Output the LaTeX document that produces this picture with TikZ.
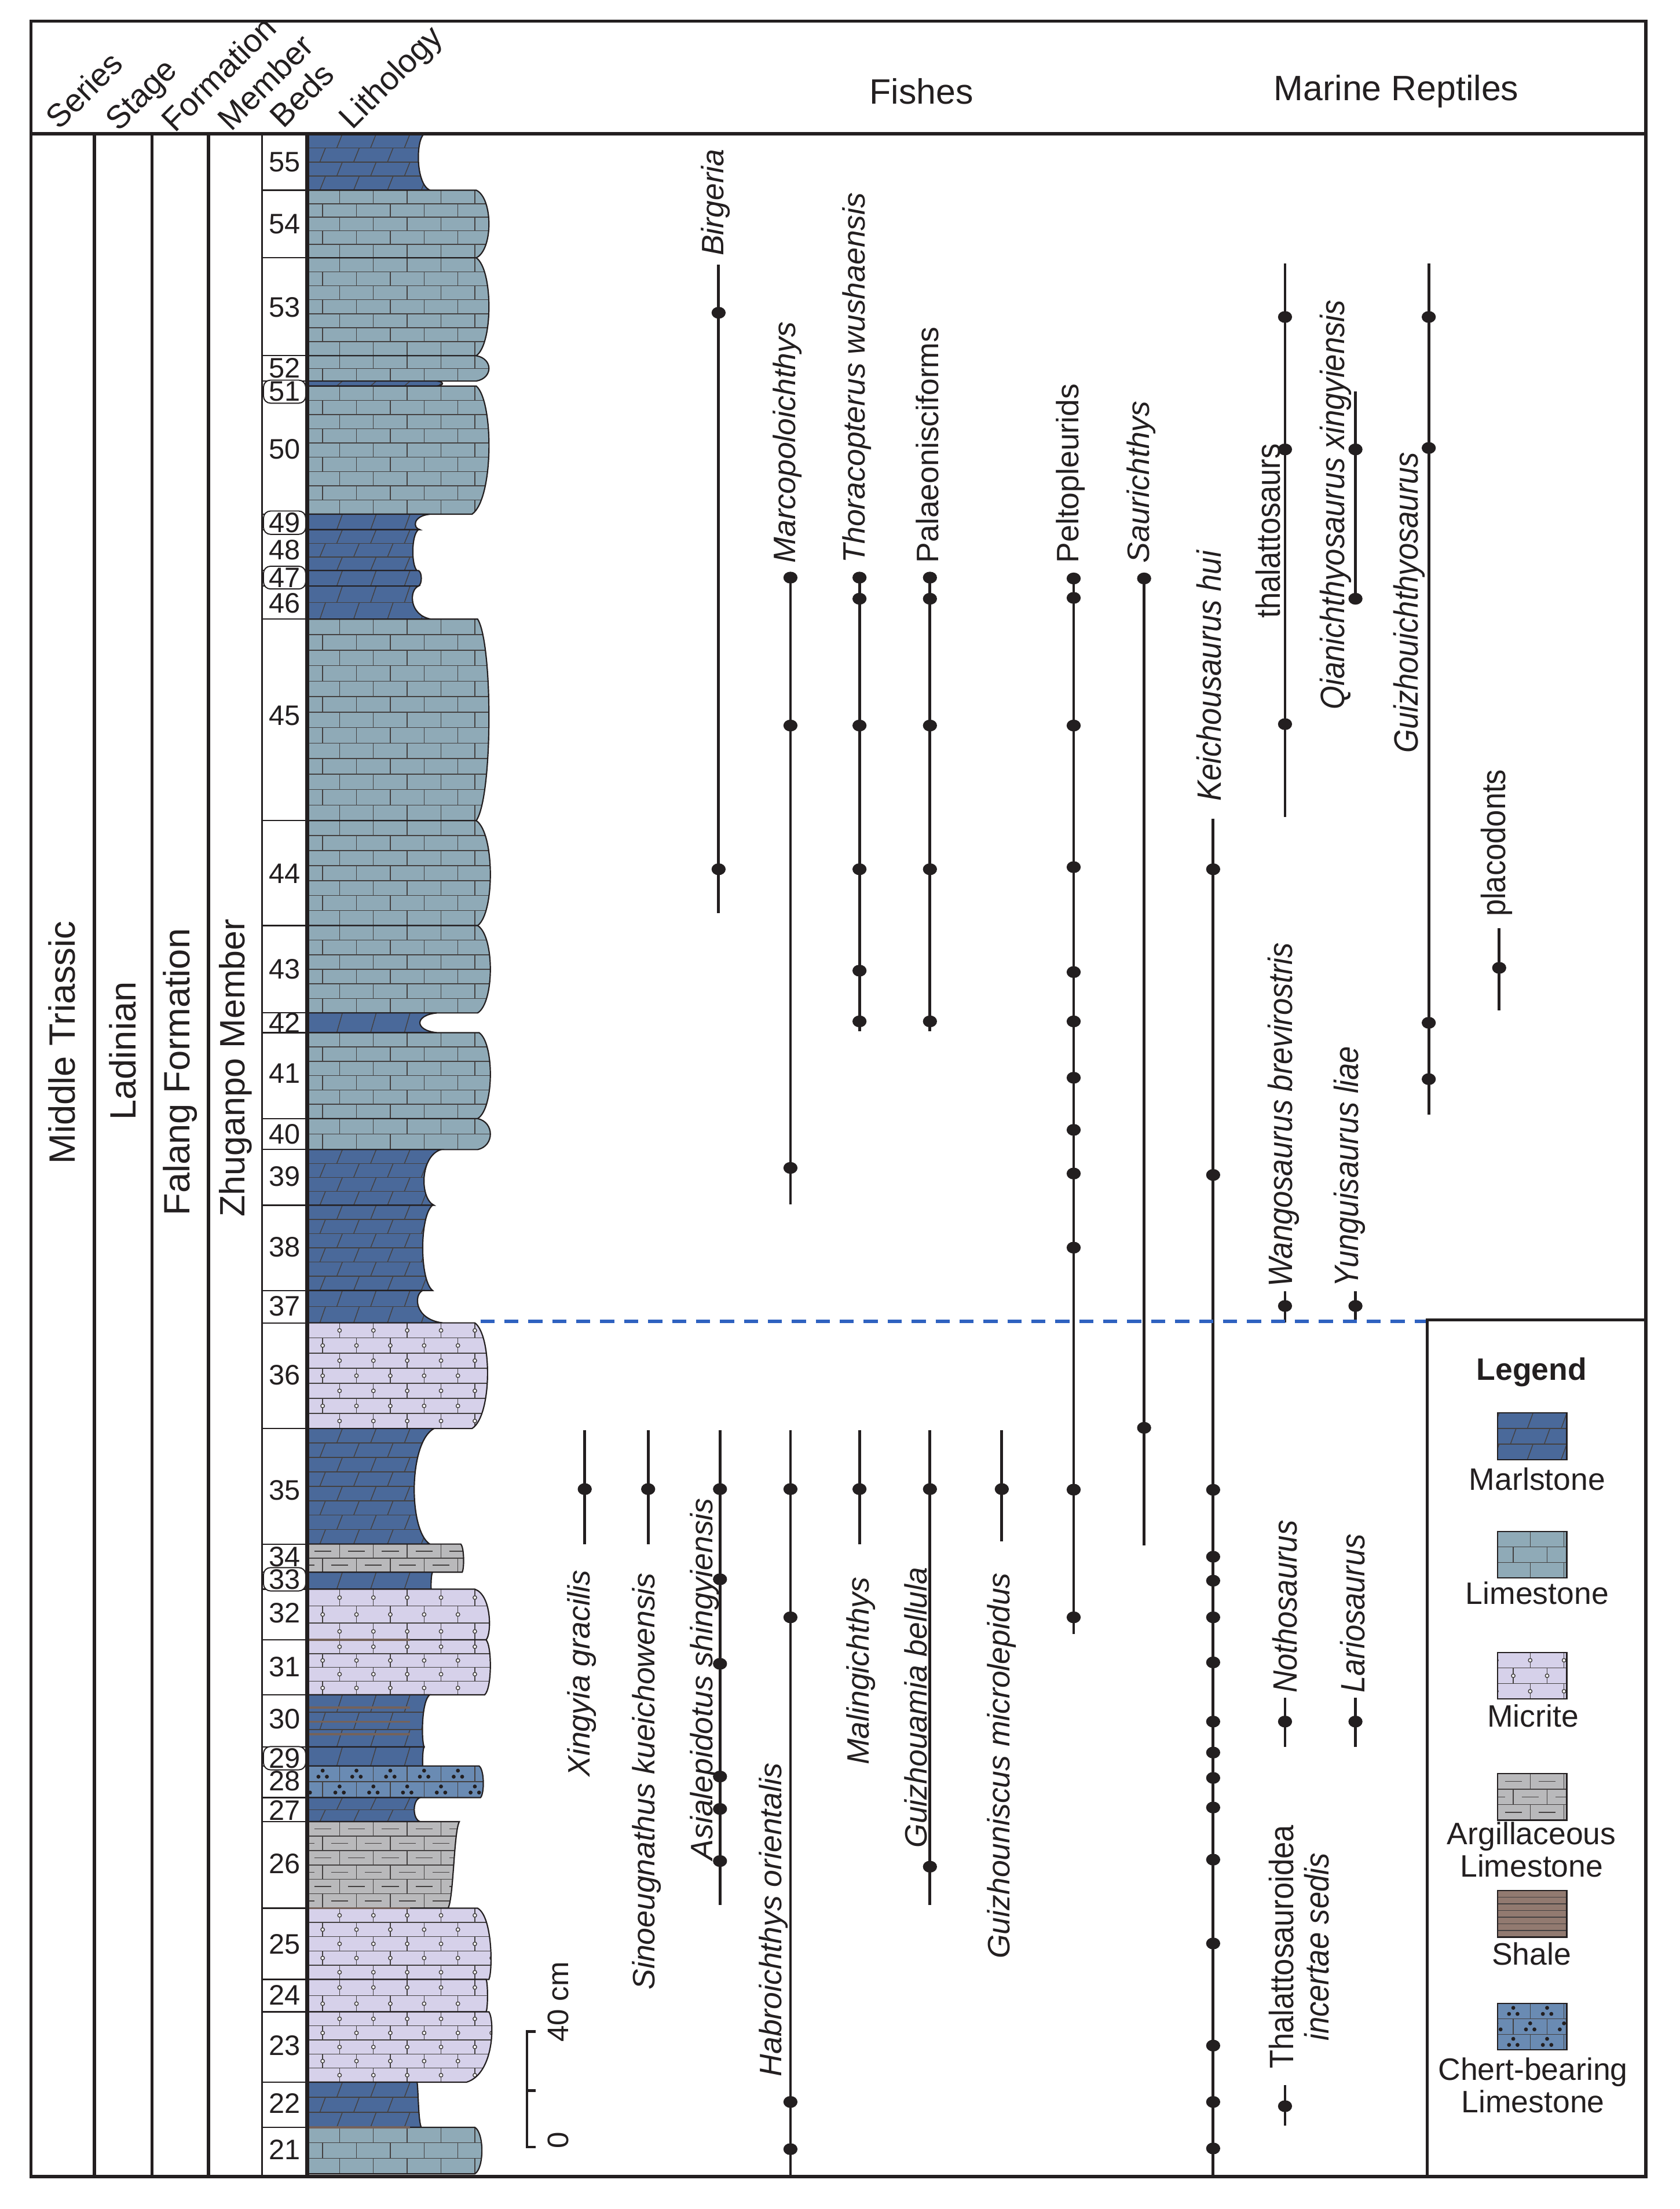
\documentclass[tikz,border=0pt]{standalone}
\usepackage{fontspec}
\setmainfont{Liberation Sans}
\newfontfamily\narrowsf[FakeStretch=0.9]{Liberation Sans}
\usetikzlibrary{calc}

\definecolor{ink}{HTML}{231F20}
\definecolor{marlblue}{HTML}{4A699A}
\definecolor{limeblue}{HTML}{8FAAB7}
\definecolor{micritelilac}{HTML}{D6D1EA}
\definecolor{argilgrey}{HTML}{B9B9BB}
\definecolor{shalebrown}{HTML}{927A70}
\definecolor{chertblue}{HTML}{6A8BB3}
\definecolor{dashblue}{HTML}{2F62C0}

\newcommand{\jlime}{\draw[pat] (\litx,\litya) -- (\litx,\lityb);}
\newcommand{\jmarl}{\draw[pat] (\litx-2,\lityb) -- (\litx+2,\litya);}
\newcommand{\jmicr}{\draw[pat] (\litx,\litya) -- (\litx,\lityb);
  \draw[pat,fill=white] (\litx,\litym) circle (1.3);}
\newcommand{\jargi}{\draw[pat] (\litx,\litya) -- (\litx,\lityb);
  \draw[pat] (\litx+6,\litym) -- (\litx+18,\litym);}
\newcommand{\jchert}{\draw[pat] (\litx,\litya) -- (\litx,\lityb);
  \fill[ink] (\litx+12,\litym-2.3) circle (1.4) (\litx+9,\litym+2) circle (1.4)
    (\litx+15,\litym+2) circle (1.4);}

\newcommand{\litrows}[5]{%
  \pgfmathtruncatemacro{\litn}{max(1,round((#3-(#2))/10.6))}
  \pgfmathsetmacro{\lith}{(#3-(#2))/\litn}
  \foreach \i in {1,...,\litn}{
    \pgfmathsetmacro{\litya}{#2+(\i-1)*\lith}
    \pgfmathsetmacro{\lityb}{#2+\i*\lith}
    \pgfmathsetmacro{\litym}{#2+(\i-0.5)*\lith}
    \pgfmathsetmacro{\litoff}{mod(\i+#5,2)*12}
    \draw[pat] (#1,\lityb) -- ++(140,0);
    \foreach \k in {-1,...,5}{
      \pgfmathsetmacro{\litx}{#1+11+\litoff+24*\k}
      #4
    }
  }
}

\newcommand{\litbed}[7]{%
  \pgfmathsetmacro{\bedc}{(#4-0.125*(#3+#5))/0.75}
  \pgfmathsetmacro{\bedqa}{#1+0.12*(#2-#1)}
  \pgfmathsetmacro{\bedqb}{#2-0.12*(#2-#1)}
  \begin{scope}
    \clip (218,#1) -- (#3,#1) .. controls (\bedc,\bedqa) and (\bedc,\bedqb) .. (#5,#2) -- (218,#2) -- cycle;
    \fill[#6] (218,#1) rectangle (360,#2);
    \litrows{218}{#1}{#2}{#7}{0}
  \end{scope}
  \draw[bededge] (218,#1) -- (#3,#1) .. controls (\bedc,\bedqa) and (\bedc,\bedqb) .. (#5,#2) -- (218,#2);
}

\newcommand{\litswatch}[3]{%
  \begin{scope}
    \clip (1063,#1) rectangle (1112,#1+33);
    \fill[#2] (1063,#1) rectangle (1112,#1+33);
    \litrows{1063}{#1}{#1+33}{#3}{0}
  \end{scope}
  \draw[bededge] (1063,#1) rectangle (1112,#1+33);
}

\newcommand{\taxon}[5]{%
  \coordinate (#1-t) at (#2,#3);
  \coordinate (#1-b) at (#2,#4);
  \draw[rangebar] (#1-t) -- (#1-b);
  \foreach \occy in {#5}{\fill[occ] (#2,\occy) ellipse [x radius=5, y radius=4.2];}
}

\begin{document}
\begin{tikzpicture}[x=0.5pt, y=-0.5pt,
    framerule/.style={line width=1.1pt, draw=ink},
    pat/.style={line width=0.3pt, draw=ink!85},
    bededge/.style={line width=0.45pt, draw=ink},
    rangebar/.style={line width=1pt, draw=ink},
    occ/.style={fill=ink},
    bednum/.style={font=\fontsize{10}{12}\selectfont, inner sep=0.6pt, text=ink},
    fishlbl/.style={rotate=90, inner sep=0.5pt, text=ink, font=\fontsize{11}{13}\selectfont\itshape},
    fishup/.style={rotate=90, inner sep=0.5pt, text=ink, font=\fontsize{11}{13}\selectfont},
    reptlbl/.style={rotate=90, inner sep=0.5pt, text=ink, font=\narrowsf\fontsize{12}{12.5}\selectfont\itshape},
    reptup/.style={rotate=90, inner sep=0.5pt, text=ink, font=\narrowsf\fontsize{12}{12.5}\selectfont},
    unitlbl/.style={rotate=90, text=ink, font=\fontsize{13}{15}\selectfont},
    headlbl/.style={rotate=45, anchor=base west, inner sep=0pt, text=ink, font=\fontsize{11.5}{14}\selectfont},
    leglbl/.style={font=\fontsize{11}{11.5}\selectfont, align=center, inner sep=0pt, text=ink},
    dashline/.style={draw=dashblue, line width=1.3pt, dash pattern=on 5pt off 3.5pt}]
  \useasboundingbox (0,0) rectangle (1192,1568);
  \fill[white] (0,0) rectangle (1192,1568);

  \litbed{95}{135}{301}{297}{305}{marlblue}{\jmarl}
  \litbed{135}{183}{338}{347}{338}{limeblue}{\jlime}
  \litbed{183}{252.5}{338}{347}{338}{limeblue}{\jlime}
  \litbed{252.5}{270.5}{338}{347}{338}{limeblue}{\jlime}
  \litbed{270.5}{274}{310}{314}{310}{marlblue}{\jmarl}
  \litbed{274}{365}{338}{347}{335}{limeblue}{\jlime}
  \litbed{365}{376}{305}{295}{298}{marlblue}{\jmarl}
  \litbed{376}{405}{297}{293}{296}{marlblue}{\jmarl}
  \litbed{405}{416}{297}{299}{297}{marlblue}{\jmarl}
  \litbed{416}{439.5}{297}{293}{306}{marlblue}{\jmarl}
  \litbed{439.5}{582.5}{339}{347}{338}{limeblue}{\jlime}
  \litbed{582.5}{657}{338}{348}{339}{limeblue}{\jlime}
  \litbed{657}{719}{339}{348}{339}{limeblue}{\jlime}
  \litbed{719}{733}{310}{298}{310}{marlblue}{\jmarl}
  \litbed{733}{794}{340}{348}{339}{limeblue}{\jlime}
  \litbed{794}{816}{339}{348}{339}{limeblue}{\jlime}
  \litbed{816}{855.5}{313}{301}{308}{marlblue}{\jmarl}
  \litbed{855.5}{916}{307}{300}{307}{marlblue}{\jmarl}
  \litbed{916}{939}{300}{297}{314}{marlblue}{\jmarl}
  \litbed{939}{1014}{337}{346}{335}{micritelilac}{\jmicr}
  \litbed{1014}{1096}{308}{294}{305}{marlblue}{\jmarl}
  \litbed{1096}{1116}{327}{329}{328}{argilgrey}{\jargi}
  \litbed{1116}{1128}{307}{306}{306}{marlblue}{\jmarl}
  \litbed{1128}{1164}{337}{347}{345}{micritelilac}{\jmicr}
  \litbed{1164}{1203}{345}{348}{344}{micritelilac}{\jmicr}
  \litbed{1203}{1240}{305}{300}{301}{marlblue}{\jmarl}
  \litbed{1240}{1253.5}{301}{300}{300}{marlblue}{\jmarl}
  \litbed{1253.5}{1276}{340}{343}{341}{chertblue}{\jchert}
  \litbed{1276}{1293}{298}{294}{298}{marlblue}{\jmarl}
  \litbed{1293}{1354.5}{326}{322}{318}{argilgrey}{\jargi}
  \litbed{1354.5}{1405}{339}{348}{347}{micritelilac}{\jmicr}
  \litbed{1405}{1428}{345}{346}{345}{micritelilac}{\jmicr}
  \litbed{1428}{1478}{347}{348}{331}{micritelilac}{\jmicr}
  \litbed{1478}{1510}{296}{297}{299}{marlblue}{\jmarl}
  \litbed{1510}{1543}{337}{342}{337}{limeblue}{\jlime}
  \foreach \sy in {1164,1212,1222,1231,1354.5,1510}
    \draw[draw=shalebrown!80!black, line width=0.7pt] (219,\sy) -- (291,\sy);

  \draw[framerule] (22,15) rectangle (1168,1545);
  \draw[framerule] (22,95) -- (1168,95);
  \foreach \cx in {67,108,148}
    \draw[framerule] (\cx,95) -- (\cx,1545);
  \draw[line width=0.6pt, draw=ink] (186,95) -- (186,1545);
  \draw[line width=1.4pt, draw=ink] (218,95) -- (218,1545);

  \foreach \by in {135,183,252.5,270.5,365,376,405,416,439.5,582.5,657,719,733,794,816,855.5,916,939,1014,1096,1116,1128,1164,1203,1240,1253.5,1276,1293,1354.5,1405,1428,1478,1510}
    \draw[bededge] (186,\by) -- (218,\by);
  \foreach \n/\ny in {55/115,54/159,53/218,52/261.5,50/319,48/390.5,46/428,45/508,44/620,43/688,42/726,41/762,40/805,39/835,38/885,37/927,36/976,35/1058,34/1105,32/1145,31/1183,30/1220,28/1264,27/1285,26/1323,25/1380,24/1416,23/1452,22/1493,21/1526}
    \node[bednum] (bed\n) at (202,\ny) {\n};
  \foreach \n/\ny in {51/278,49/371,47/410,33/1121,29/1248}
    \node[bednum, draw=ink, fill=white, rounded corners=2.5pt, line width=0.4pt, minimum width=15pt] (bed\n) at (202,\ny) {\n};

  \node[headlbl] (hseries) at (42,93) {Series};
  \node[headlbl] (hstage) at (84,94) {Stage};
  \node[headlbl] (hform) at (124,95) {Formation};
  \node[headlbl] (hmember) at (164,94) {Member};
  \node[headlbl] (hbeds) at (201,92) {Beds};
  \node[headlbl] (hlith) at (250,93) {Lithology};
  \node[text=ink, font=\fontsize{12.5}{14}\selectfont] (fishes) at (654,65) {Fishes};
  \node[text=ink, font=\fontsize{12.5}{14}\selectfont] (reptiles) at (991,65) {Marine Reptiles};

  \node[unitlbl] (series) at (44,740) {Middle Triassic};
  \node[unitlbl] (stage) at (87,746) {Ladinian};
  \node[unitlbl] (formation) at (128,761) {Falang Formation};
  \node[unitlbl, font=\fontsize{12.5}{15}\selectfont] (member) at (167,758) {Zhuganpo Member};

  \taxon{birg}{510}{188}{648}{222,617}
  \taxon{marco}{561}{410}{855}{410,515,829}
  \taxon{thora}{610}{410}{732}{410,425,515,617,689,725}
  \taxon{palae}{660}{410}{732}{410,425,515,617,725}
  \taxon{pelto}{762}{410}{1160}{410.6,424.4,515,615.5,690,725,765,802,833,885.6,1057.4,1148}
  \taxon{saur}{812}{410}{1097}{410.6,1013.5}
  \taxon{xing}{415}{1015}{1096}{1057}
  \taxon{sino}{460}{1015}{1096}{1057}
  \taxon{asia}{511}{1015}{1352}{1057,1121,1181,1261,1284,1321}
  \taxon{habro}{561}{1015}{1545}{1057,1148,1492,1525.5}
  \taxon{maling}{610}{1015}{1096}{1057}
  \taxon{gbell}{660}{1015}{1352}{1057,1325}
  \taxon{gmicro}{711}{1015}{1094}{1057}
  \taxon{keich}{861}{581}{1545}{617,834,1057.5,1105,1122,1148,1180,1222,1244,1262,1283,1320,1379.5,1452,1492,1525}
  \taxon{thal}{912}{187}{580}{225,319,514}
  \taxon{qian}{962}{278}{425}{319,425}
  \taxon{guizh}{1014}{187}{791}{225,318,726,766}
  \taxon{placo}{1064}{659}{717}{687}
  \taxon{wang}{912}{916.5}{938.7}{927}
  \taxon{yung}{962}{916.5}{938.7}{927}
  \taxon{notho}{912}{1205}{1240}{1222}
  \taxon{lario}{962}{1205}{1240}{1222}
  \taxon{thalinc}{912}{1480}{1509}{1495}

  \node[fishlbl, anchor=west] (birgeria) at (508,183) {Birgeria};
  \node[fishlbl, anchor=west] (marcolbl) at (559,401) {Marcopoloichthys};
  \node[fishlbl, anchor=west] (thoralbl) at (608,401) {Thoracopterus wushaensis};
  \node[fishup, anchor=west] (palaelbl) at (658,401) {Palaeonisciforms};
  \node[fishup, anchor=west] (peltolbl) at (760,401) {Peltopleurids};
  \node[fishlbl, anchor=west] (saurlbl) at (810,401) {Saurichthys};
  \node[fishlbl, anchor=east] (xinglbl) at (413,1113) {Xingyia gracilis};
  \node[fishlbl, anchor=east] (sinolbl) at (459,1115) {Sinoeugnathus kueichowensis};
  \node[fishlbl, anchor=east] (asialbl) at (500,1062) {Asialepidotus shingyiensis};
  \node[fishlbl, anchor=east] (habrolbl) at (549,1250) {Habroichthys orientalis};
  \node[fishlbl, anchor=east] (malinglbl) at (611,1118) {Malingichthys};
  \node[fishlbl, anchor=east] (gbelllbl) at (650,1111) {Guizhouamia bellula};
  \node[fishlbl, anchor=east] (gmicrolbl) at (711,1115) {Guizhouniscus microlepidus};

  \node[reptlbl, anchor=west] (keichlbl) at (858,570) {Keichousaurus hui};
  \node[reptup, anchor=west] (thallbl) at (900,440) {thalattosaurs};
  \node[reptlbl, anchor=west] (qianlbl) at (948,505) {Qianichthyosaurus xingyiensis};
  \node[reptlbl, anchor=west] (guizhlbl) at (1000,536) {Guizhouichthyosaurus};
  \node[reptup, anchor=west] (placolbl) at (1062,652) {placodonts};
  \node[reptlbl, anchor=west] (wanglbl) at (911,915) {Wangosaurus brevirostris};
  \node[reptlbl, anchor=west] (yunglbl) at (958,915) {Yunguisaurus liae};
  \node[reptlbl, anchor=west] (notholbl) at (912,1203) {Nothosaurus};
  \node[reptlbl, anchor=west] (lariolbl) at (960,1203) {Lariosaurus};
  \node[reptup, align=center] (thalinclbl) at (922,1382) {Thalattosauroidea\\\textit{incertae sedis}};

  \coordinate (mark-l) at (341,938);
  \coordinate (mark-r) at (1013,938);
  \draw[dashline] (mark-l) -- (mark-r);

  \coordinate (sc-top) at (374,1442);
  \coordinate (sc-mid) at (374,1484);
  \coordinate (sc-bot) at (374,1524);
  \draw[line width=1pt, draw=ink] (380,1442) -- (sc-top) -- (sc-bot) -- (380,1524);
  \draw[line width=1pt, draw=ink] (sc-mid) -- (380,1484);
  \node[rotate=90, anchor=west, inner sep=0pt, text=ink, font=\fontsize{10.5}{12}\selectfont] (sc40) at (396,1450) {40 cm};
  \node[rotate=90, inner sep=0pt, text=ink, font=\fontsize{10.5}{12}\selectfont] (sc0) at (396,1519) {0};

  \draw[framerule] (1013,1545) -- (1013,937) -- (1168,937);
  \node[text=ink, font=\bfseries\fontsize{11}{13}\selectfont] (legend) at (1087,974) {Legend};
  \litswatch{1003}{marlblue}{\jmarl}
  \node[leglbl] (lgmarl) at (1091,1050) {Marlstone};
  \litswatch{1087}{limeblue}{\jlime}
  \node[leglbl] (lglime) at (1091,1131) {Limestone};
  \litswatch{1173}{micritelilac}{\jmicr}
  \node[leglbl] (lgmicr) at (1088,1218) {Micrite};
  \litswatch{1259}{argilgrey}{\jargi}
  \node[leglbl] (lgargi) at (1087,1313) {Argillaceous\\Limestone};
  \fill[shalebrown] (1063,1342) rectangle (1112,1375);
  \foreach \sy in {1,...,6}
    \draw[pat] (1063,1342+4.7*\sy) -- (1112,1342+4.7*\sy);
  \draw[bededge] (1063,1342) rectangle (1112,1375);
  \node[leglbl] (lgshale) at (1087,1387) {Shale};
  \litswatch{1422}{chertblue}{\jchert}
  \node[leglbl] (lgchert) at (1088,1480) {Chert-bearing\\Limestone};
\end{tikzpicture}
\end{document}
